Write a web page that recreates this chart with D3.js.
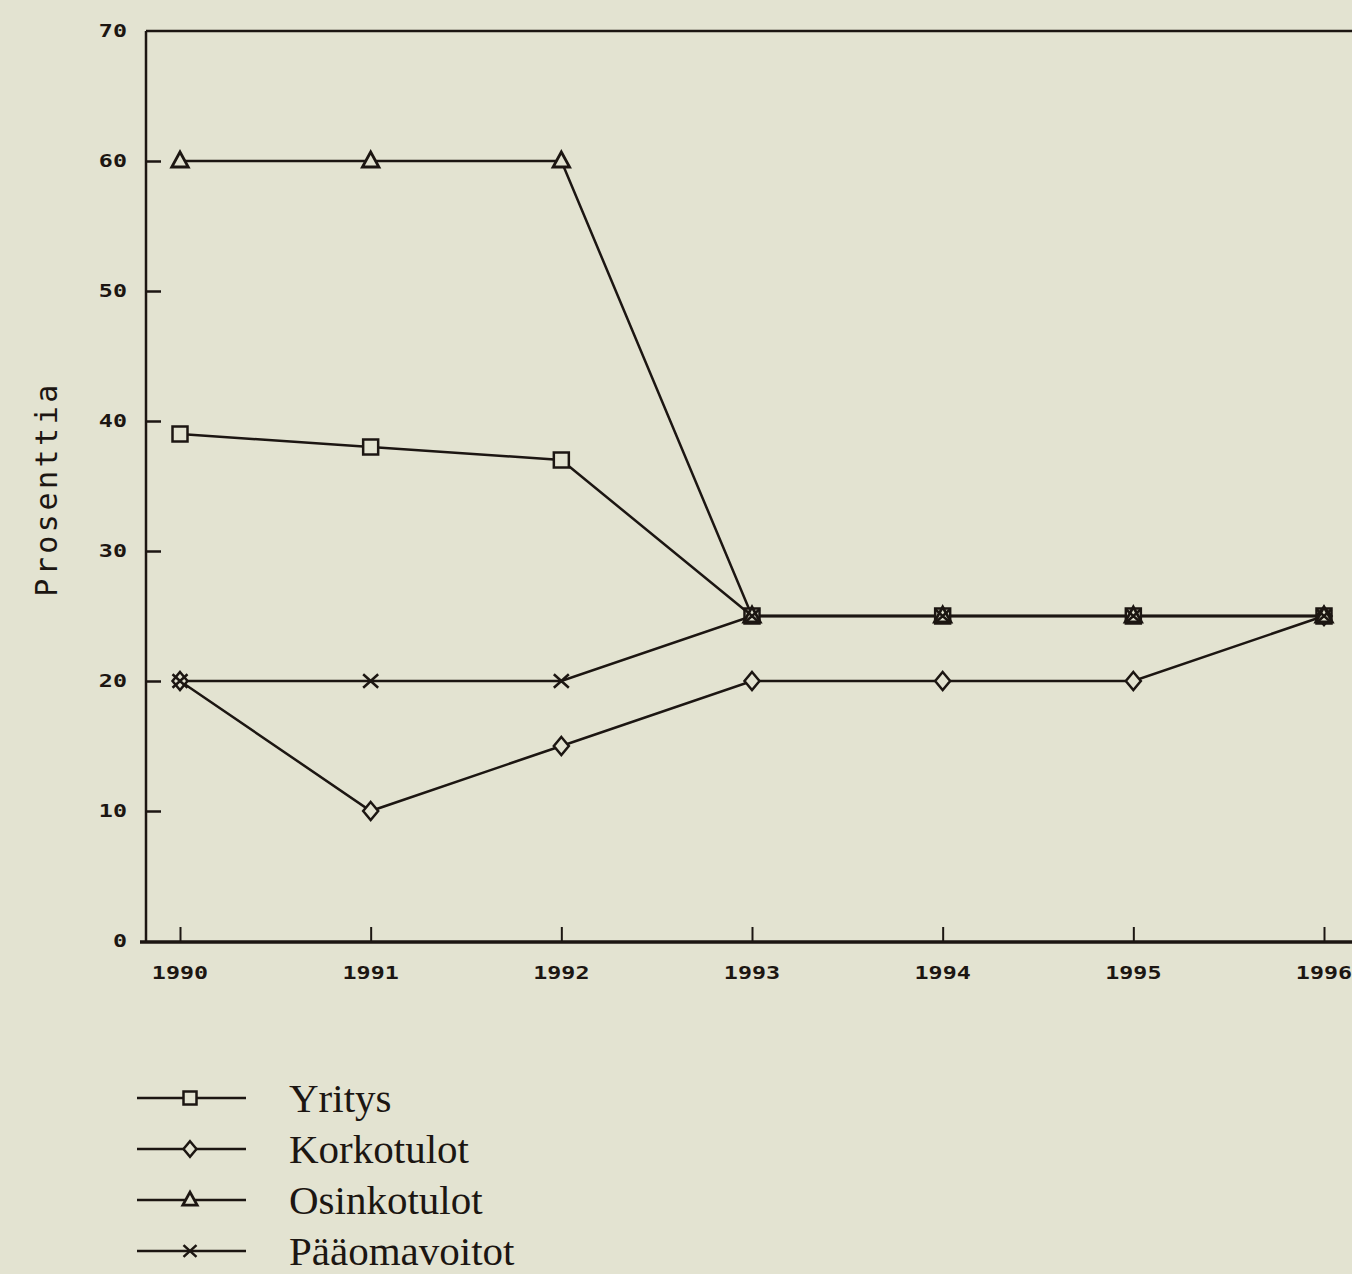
<!DOCTYPE html>
<html>
<head>
<meta charset="utf-8">
<script src="https://cdn.jsdelivr.net/npm/d3@7"></script>
<style>
  body { margin: 0; background: #e3e3d1; }
  svg { display: block; }
</style>
</head>
<body>
<div id="chart"></div>
<script>
// data
var years = [1990, 1991, 1992, 1993, 1994, 1995, 1996]
var yritys = [39, 38, 37, 25, 25, 25, 25]
var korkotulot = [20, 10, 15, 20, 20, 20, 25]
var osinkotulot = [60, 60, 60, 25, 25, 25, 25]
var paaomavoitot = [20, 20, 20, 25, 25, 25, 25]
var yTicks = [0, 10, 20, 30, 40, 50, 60, 70]
var seriesNames = ["Yritys", "Korkotulot", "Osinkotulot", "Pääomavoitot"]

var svgSize = { width: 1352, height: 1274 }
var ink = "#1c1612"
var paper = "#e3e3d1"

var series = [
    { name: seriesNames[0], values: yritys, symbol: "square" },
    { name: seriesNames[1], values: korkotulot, symbol: "diamond" },
    { name: seriesNames[2], values: osinkotulot, symbol: "triangle" },
    { name: seriesNames[3], values: paaomavoitot, symbol: "cross" }
]

var svg = d3.select("#chart").append("svg")
            .attr("width", svgSize.width)
            .attr("height", svgSize.height)

svg.append("rect").attr("width", svgSize.width).attr("height", svgSize.height)
   .attr("fill", paper)

var xScale = d3.scaleLinear().domain([1990, 1996]).range([180, 1324])
var yScale = d3.scaleLinear().domain([0, 70]).range([941, 31])
var axisX = 146

// frame: top line, left axis, baseline
svg.append("line").attr("x1", axisX).attr("x2", svgSize.width)
   .attr("y1", yScale(70)).attr("y2", yScale(70))
   .attr("stroke", ink).attr("stroke-width", 2.5)
svg.append("line").attr("x1", axisX).attr("x2", axisX)
   .attr("y1", yScale(70)).attr("y2", yScale(0))
   .attr("stroke", ink).attr("stroke-width", 2.5)
svg.append("line").attr("x1", 140).attr("x2", svgSize.width)
   .attr("y1", yScale(0) + 1).attr("y2", yScale(0) + 1)
   .attr("stroke", ink).attr("stroke-width", 3.5)

// y axis ticks (pointing inward) and labels
var leftAxis = d3.axisRight(yScale).tickValues(yTicks).tickSize(15).tickFormat("")
var gy = svg.append("g").attr("transform", `translate(${axisX}, 0)`).call(leftAxis)
gy.select(".domain").remove()
gy.selectAll(".tick line").attr("stroke", ink).attr("stroke-width", 2.5)
    .filter(d => d === 0 || d === 70).remove()

// blocky plotter-style numbers: bold mono, stretched horizontally
function blockText(sel) {
    sel.attr("font-family", "DejaVu Sans Mono")
       .attr("font-weight", "bold")
       .attr("font-size", 18)
       .attr("fill", ink)
}

svg.selectAll(".ylab").data(yTicks).enter().append("text")
   .attr("class", "ylab")
   .attr("transform", d => `translate(127, ${yScale(d)}) scale(1.3, 1)`)
   .attr("dy", "0.36em")
   .attr("text-anchor", "end")
   .call(blockText)
   .text(d => d)

// x axis ticks (pointing up) and labels
var bottomAxis = d3.axisTop(xScale).tickValues(years).tickSize(14).tickFormat("")
var gx = svg.append("g").attr("transform", `translate(0, ${yScale(0)})`).call(bottomAxis)
gx.select(".domain").remove()
gx.selectAll(".tick line").attr("stroke", ink).attr("stroke-width", 2)

svg.selectAll(".xlab").data(years).enter().append("text")
   .attr("class", "xlab")
   .attr("transform", d => `translate(${xScale(d)}, 979) scale(1.3, 1)`)
   .attr("text-anchor", "middle")
   .call(blockText)
   .text(d => d)

svg.append("text")
   .attr("transform", `translate(57, 489) rotate(-90)`)
   .attr("text-anchor", "middle")
   .attr("font-family", "DejaVu Sans Mono")
   .attr("font-size", 30)
   .attr("letter-spacing", 3.5)
   .attr("fill", ink)
   .text("Prosenttia")

// marker drawing
function drawMarker(g, symbol, x, y, s) {
    if (symbol === "square") {
        g.append("rect").attr("x", x - s).attr("y", y - s)
         .attr("width", 2 * s).attr("height", 2 * s)
         .attr("fill", paper).attr("stroke", ink).attr("stroke-width", 2.5)
    } else if (symbol === "diamond") {
        g.append("path")
         .attr("d", `M${x},${y - s * 1.2}L${x + s},${y}L${x},${y + s * 1.2}L${x - s},${y}Z`)
         .attr("fill", paper).attr("stroke", ink).attr("stroke-width", 2.5)
    } else if (symbol === "triangle") {
        g.append("path")
         .attr("d", `M${x},${y - s * 1.2}L${x + s * 1.1},${y + s * 0.8}L${x - s * 1.1},${y + s * 0.8}Z`)
         .attr("fill", paper).attr("stroke", ink).attr("stroke-width", 2.8)
    } else {
        g.append("path")
         .attr("d", `M${x - s},${y - s * 0.9}L${x + s},${y + s * 0.9}M${x + s},${y - s * 0.9}L${x - s},${y + s * 0.9}`)
         .attr("fill", "none").attr("stroke", ink).attr("stroke-width", 2.5)
    }
}

var line = d3.line().x((d, i) => xScale(years[i])).y(d => yScale(d))

var plot = svg.append("g")
series.forEach(s => {
    plot.append("path").datum(s.values)
        .attr("d", line)
        .attr("fill", "none")
        .attr("stroke", ink)
        .attr("stroke-width", 2.5)
})
series.forEach(s => {
    var g = plot.append("g")
    s.values.forEach((v, i) => drawMarker(g, s.symbol, xScale(years[i]), yScale(v), 7.5))
})

// legend
var legend = svg.append("g")
series.forEach((s, i) => {
    var y = 1098 + i * 51
    legend.append("line").attr("x1", 137).attr("x2", 246)
          .attr("y1", y).attr("y2", y)
          .attr("stroke", ink).attr("stroke-width", 2.5)
    drawMarker(legend, s.symbol, 190, y, 6.5)
    legend.append("text")
          .attr("x", 289).attr("y", y + 14)
          .attr("font-family", "Liberation Serif")
          .attr("font-size", 41)
          .attr("fill", ink)
          .text(s.name)
})
</script>
</body>
</html>
